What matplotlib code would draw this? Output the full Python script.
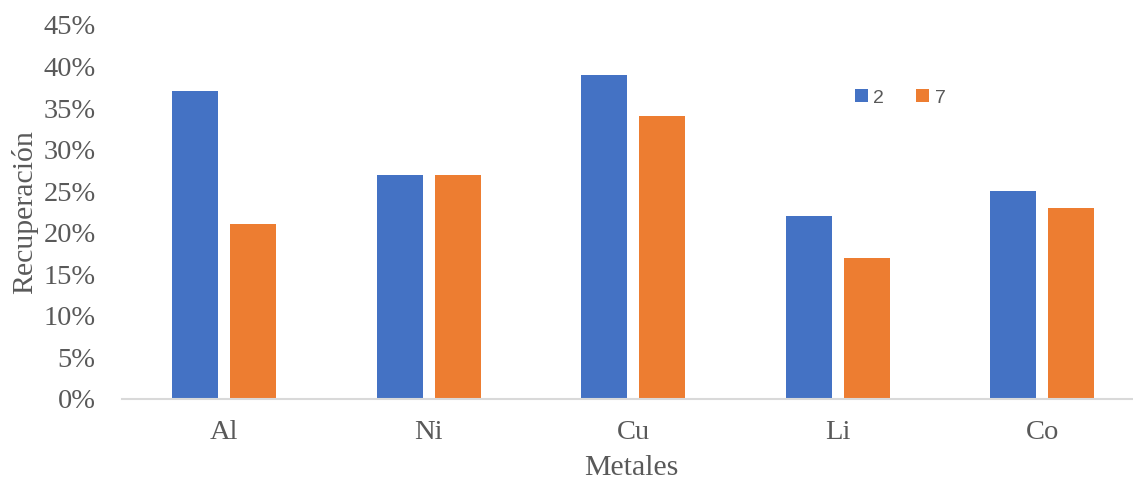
import numpy as np
import matplotlib.pyplot as plt
from matplotlib.ticker import PercentFormatter

# Datos
metales = ["Al", "Ni", "Cu", "Li", "Co"]
serie_2 = [37, 27, 39, 22, 25]
serie_7 = [21, 27, 34, 17, 23]

azul = "#4472C4"
naranja = "#ED7D31"
gris = "#595959"

fig = plt.figure(figsize=(11.33, 4.83), dpi=100)
ax = fig.add_axes([122 / 1133, 84 / 483, 1011 / 1133, 374 / 483])

x = np.arange(len(metales))
ancho = 0.225
ax.bar(x - 0.142, serie_2, ancho, color=azul, label="2")
ax.bar(x + 0.142, serie_7, ancho, color=naranja, label="7")

ax.set_xlim(-0.5, 4.444)
ax.set_ylim(0, 45)
ax.set_yticks(np.arange(0, 46, 5))
ax.yaxis.set_major_formatter(PercentFormatter(decimals=0))
ax.set_xticks(x)
ax.set_xticklabels(metales)

for s in ["top", "right", "left"]:
    ax.spines[s].set_visible(False)
ax.spines["bottom"].set_color("#D9D9D9")
ax.spines["bottom"].set_linewidth(1.5)
ax.tick_params(axis="both", length=0, labelsize=20.5, labelcolor=gris)
ax.tick_params(axis="y", pad=19)
ax.tick_params(axis="x", pad=15)
for lbl in ax.get_xticklabels() + ax.get_yticklabels():
    lbl.set_fontfamily("Liberation Serif")

ax.set_ylabel("Recuperación", fontsize=21.5, color=gris, family="Liberation Serif", labelpad=4)
ax.set_xlabel("Metales", fontsize=21.5, color=gris, family="Liberation Serif", labelpad=7)
ax.xaxis.label.set_x(0.504)

ax.legend(loc="center left", bbox_to_anchor=(0.725, 0.805), ncol=2, frameon=False,
          prop={"family": "Liberation Sans", "size": 14}, labelcolor=gris,
          borderpad=0, borderaxespad=0,
          handlelength=0.65, handleheight=0.65, columnspacing=1.65, handletextpad=0.3)

fig.savefig("out.png", dpi=100)
